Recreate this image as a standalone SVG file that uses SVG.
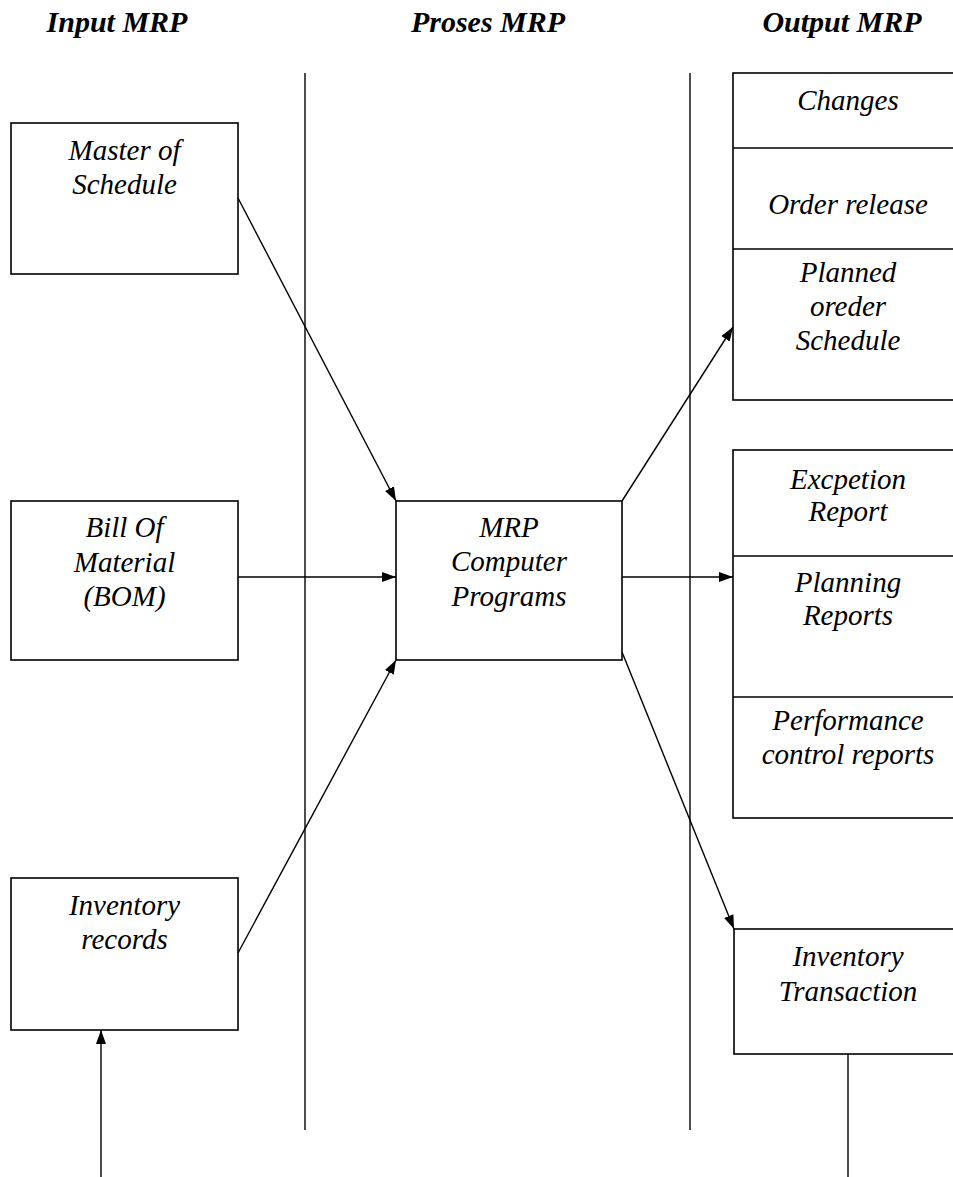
<svg xmlns="http://www.w3.org/2000/svg" width="953" height="1177" viewBox="0 0 953 1177">
<style>
.hdr{font-family:"Liberation Serif","Times New Roman",serif;font-size:30px;font-weight:bold;font-style:italic;text-anchor:middle;fill:#000}
.t{font-family:"Liberation Serif","Times New Roman",serif;font-size:29px;font-style:italic;text-anchor:middle;fill:#000}
.box{fill:#fff;stroke:#000;stroke-width:1.6}
.ln{stroke:#000;stroke-width:1.4;fill:none}
.arr{stroke:#000;stroke-width:1.4;fill:none;marker-end:url(#ah)}
</style>
<defs>
<marker id="ah" viewBox="0 0 14 10" refX="14" refY="5" markerWidth="14" markerHeight="10" markerUnits="userSpaceOnUse" orient="auto">
<path d="M0,0 L14,5 L0,10 Z" fill="#000"/>
</marker>
</defs>
<rect width="953" height="1177" fill="#fff"/>
<g id="headers">
<text class="hdr" x="117" y="32">Input MRP</text>
<text class="hdr" x="488" y="32">Proses MRP</text>
<text class="hdr" x="842" y="32">Output MRP</text>
</g>
<g id="lanes">
<line class="ln" x1="305" y1="73" x2="305" y2="1130"/>
<line class="ln" x1="690" y1="73" x2="690" y2="1130"/>
</g>
<g id="master">
<rect class="box" x="11" y="123" width="227" height="151"/>
<text class="t" x="124.5" y="160">Master of</text>
<text class="t" x="124.5" y="194">Schedule</text>
</g>
<g id="bom">
<rect class="box" x="11" y="501" width="227" height="159"/>
<text class="t" x="124.5" y="537">Bill Of</text>
<text class="t" x="124.5" y="572">Material</text>
<text class="t" x="124.5" y="606">(BOM)</text>
</g>
<g id="records">
<rect class="box" x="11" y="878" width="227" height="152"/>
<text class="t" x="124.5" y="915">Inventory</text>
<text class="t" x="124.5" y="949">records</text>
</g>
<g id="mrp">
<rect class="box" x="396" y="501" width="226" height="159"/>
<text class="t" x="509" y="537">MRP</text>
<text class="t" x="509" y="571">Computer</text>
<text class="t" x="509" y="606">Programs</text>
</g>
<g id="out1">
<rect class="box" x="733" y="73" width="230" height="327"/>
<line class="ln" x1="733" y1="148" x2="953" y2="148"/>
<line class="ln" x1="733" y1="249" x2="953" y2="249"/>
<text class="t" x="848" y="110">Changes</text>
<text class="t" x="848" y="214">Order release</text>
<text class="t" x="848" y="282">Planned</text>
<text class="t" x="848" y="316">oreder</text>
<text class="t" x="848" y="350">Schedule</text>
</g>
<g id="out2">
<rect class="box" x="733" y="450" width="230" height="368"/>
<line class="ln" x1="733" y1="556" x2="953" y2="556"/>
<line class="ln" x1="733" y1="697" x2="953" y2="697"/>
<text class="t" x="848" y="489">Excpetion</text>
<text class="t" x="848" y="521">Report</text>
<text class="t" x="848" y="592">Planning</text>
<text class="t" x="848" y="625">Reports</text>
<text class="t" x="848" y="730">Performance</text>
<text class="t" x="848" y="764">control reports</text>
</g>
<g id="transaction">
<rect class="box" x="734" y="929" width="229" height="125"/>
<text class="t" x="848" y="966">Inventory</text>
<text class="t" x="848" y="1001">Transaction</text>
</g>
<g id="connectors">
<line class="arr" x1="238" y1="198" x2="396" y2="501"/>
<line class="arr" x1="238" y1="577" x2="396" y2="577"/>
<line class="arr" x1="238" y1="953" x2="396" y2="660"/>
<line class="arr" x1="101" y1="1177" x2="101" y2="1030"/>
<line class="arr" x1="622" y1="501" x2="733" y2="327"/>
<line class="arr" x1="622" y1="577" x2="733" y2="577"/>
<line class="arr" x1="622" y1="652" x2="734" y2="929"/>
<line class="ln" x1="848" y1="1054" x2="848" y2="1177"/>
</g>
</svg>
